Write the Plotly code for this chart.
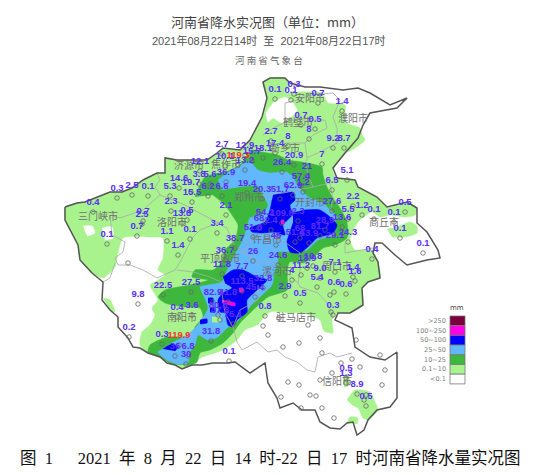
#!/usr/bin/env python3
import plotly.graph_objects as go

CLR_LIGHT = '#a9f38f'
CLR_GREEN = '#3db83d'
CLR_SKY = '#61b8ff'
CLR_BLUE = '#0000f5'
CLR_MAGENTA = '#ff00e6'

province = [(65,207),(77,203),(85,202),(97,197),(110,192),(122,192),(132,188),(143,180),(157,173),(165,173),
            (165,158),(177,160),(193,160),(207,160),(217,153),(223,148),(240,150),(250,140),(262,117),(267,98),
            (263,82),(270,78),(285,78),(290,83),(305,87),(320,87),(343,90),(358,88),(370,93),(390,105),(407,98),
            (397,108),(370,113),(363,125),(358,138),(345,153),(333,168),(337,178),(355,180),(358,187),(377,197),
            (387,207),(407,202),(417,208),(417,223),(427,232),(438,250),(440,258),(427,260),(407,265),(395,255),
            (382,243),(375,243),(373,253),(378,262),(380,278),(368,282),(362,288),(363,305),(350,313),(338,313),
            (335,320),(352,328),(355,347),(370,357),(385,360),(397,352),(397,380),(397,398),(390,407),(377,410),
            (368,420),(364,430),(357,435),(353,422),(347,423),(340,429),(330,428),(320,422),(315,410),(302,410),
            (293,403),(280,408),(277,398),(268,383),(265,363),(250,373),(235,362),(227,363),(213,363),(202,365),
            (192,365),(182,369),(175,365),(167,363),(160,357),(148,353),(140,348),(133,347),(128,338),(123,332),
            (118,327),(118,317),(110,310),(102,300),(103,282),(92,273),(80,260),(78,245),(70,230),(65,220),(65,207)]

rain_light = [(65,207),(77,203),(85,202),(97,197),(110,192),(122,192),(132,188),(143,180),(157,173),(165,173),
              (165,158),(177,160),(193,160),(207,160),(217,153),(223,148),(240,150),(250,140),(262,117),(267,98),
              (263,82),(270,78),(285,78),(290,85),(285,93),(300,92),(322,93),(328,103),(345,105),(345,122),(360,128),
              (362,135),(365,140),(352,150),(345,153),(335,165),(333,172),(337,178),(355,180),(358,187),(377,197),
              (387,207),(407,202),(417,208),(415,215),(405,217),(390,215),(380,217),(372,212),(358,222),(350,240),
              (355,250),(372,250),(378,262),(380,278),(368,282),(362,288),(363,305),(350,313),(337,313),(332,320),
              (333,333),(324,331),(320,320),(303,313),(290,313),(270,312),(257,325),(245,330),(237,340),(223,350),
              (200,358),(195,364),(192,365),(182,369),(175,365),(167,363),(160,357),(148,353),(140,345),(142,332),
              (150,325),(155,315),(152,308),(158,300),(150,285),(155,282),(165,275),(158,270),(163,258),(163,238),
              (150,237),(123,238),(117,258),(115,267),(103,278),(92,273),(80,260),(78,245),(70,230),(65,220),(65,207)]
rain_light_se = [(347,400),(355,390),(370,392),(375,402),(378,410),(368,420),(363,418),(358,408),(352,405)]
rain_light_se2 = [(347,423),(350,417),(358,418),(357,424)]
rain_light_xy = [(343,375),(348,375),(350,385),(344,387)]
rain_light_sq = [(387,229),(397,227),(410,222),(417,226),(417,233),(405,237),(392,237)]
rain_light_w = [(103,298),(110,300),(115,312),(110,310)]
white_north = [(273,103),(285,97),(292,102),(297,110),(290,118),(282,123),(273,118),(268,122),(266,112)]
white_west = [(102,228),(112,227),(113,238),(105,240)]
white_west2 = [(83,226),(92,226),(95,233),(87,236)]

rain_green = [(195,197),(205,177),(225,172),(240,165),(252,150),(262,152),(278,155),(288,160),(302,162),(322,167),
              (323,175),(327,187),(333,198),(340,208),(347,222),(347,238),(335,245),(323,248),(313,258),(303,263),
              (290,262),(287,270),(287,290),(268,297),(250,313),(240,323),(233,333),(223,343),(210,350),(200,353),
              (197,362),(190,365),(170,363),(160,357),(148,352),(150,345),(167,337),(192,336),(195,327),(203,317),
              (200,308),(185,307),(165,303),(158,297),(165,290),(190,285),(208,280),(192,277),(195,270),(213,270),
              (222,262),(225,250),(235,240),(238,225),(232,215),(225,205),(213,195)]

rain_sky = [(218,180),(232,170),(250,162),(258,170),(270,173),(286,172),(293,177),(298,187),(310,198),(323,203),
            (330,210),(337,217),(330,228),(333,235),(318,240),(307,250),(293,252),(278,252),(278,262),(275,270),
            (272,285),(262,295),(253,303),(245,313),(235,323),(227,328),(218,337),(208,340),(198,335),(195,345),
            (190,352),(188,363),(178,364),(167,360),(158,352),(165,348),(172,343),(187,335),(198,325),(208,308),
            (202,292),(200,287),(222,282),(225,275),(233,258),(243,240),(247,228),(250,218),(262,215),(268,205),
            (263,195),(258,186),(232,188),(222,190)]
green_zz = [(232,190),(255,188),(260,196),(255,208),(243,212),(234,204)]

blue_east = [(293,213),(305,210),(320,210),(330,217),(337,225),(333,233),(317,238),(310,245),(300,253),(290,252),
             (287,242),(290,232),(293,223)]
blue_north = [(273,195),(293,192),(295,200),(290,205),(292,215),(283,225),(285,235),(275,232),(262,233),(252,232),
              (250,228),(265,222),(270,210),(272,200)]
blue_south = [(223,277),(233,270),(243,270),(257,277),(267,280),(257,290),(247,300),(247,312),(237,320),(233,327),
              (228,325),(225,313),(220,312),(218,300),(223,293),(232,288),(225,283)]
blue_sw = [(163,349),(172,344),(178,347),(175,351)]
blue_a = [(208,298),(213,298),(213,303),(208,303)]
blue_b = [(200,320),(207,319),(207,323),(200,324)]
blue_c = [(210,308),(215,308),(215,312),(210,312)]
magenta_a = [(222,300),(235,303),(235,306),(222,303)]
magenta_b = [(239,288),(243,288),(243,292),(239,292)]
magenta_c = [(281,220),(284,220),(284,224),(281,224)]
island = [(212,317),(220,317),(220,322),(212,322)]

# grey county and city lines
border_lines = [
    [(110,215),(120,218),(143,210),(160,195),(155,187),(160,180),(157,173)],
    [(110,215),(112,235),(125,242),(123,252),(115,258),(118,265),(130,265),(143,270),(157,278),(175,270),(180,262),(193,237),(200,230),(217,223),(227,228),(233,243),(243,253)],
    [(115,263),(110,278),(103,282)],
    [(160,195),(185,205),(207,217),(220,223),(217,223)],
    [(177,270),(193,272),(210,277),(223,283)],
    [(222,293),(225,313),(233,327),(237,342),(242,350),(257,342),(268,352),(277,350),(285,357),(297,362),(307,370),(315,372),(318,357),(330,353),(337,357),(352,353)],
    [(300,253),(300,270),(298,283),(300,287),(318,293),(327,303),(333,317)],
    [(345,243),(345,253),(373,248)],
    [(285,103),(297,100),(310,95),(333,93),(340,100),(333,117),(337,128),(337,143),(318,153),(308,157),(305,163),(310,180),(313,187),(330,183),(333,198),(330,213)],
    [(263,135),(270,130),(285,122),(285,103)],
    [(285,120),(310,120),(325,120),(327,128),(313,135),(305,143),(307,158)],
    [(285,143),(298,143),(305,143)],
    [(243,253),(258,262),(275,262),(298,283)],
    [(243,253),(250,240),(262,235),(282,240),(300,253)],
    [(263,195),(283,193),(313,187)],
    [(258,285),(258,300),(240,310),(233,327)],
]

label_x = [93,117,132,148,179,170,191,199,210,226,208,222,192,171,226,187,182,247,143,142,137,217,222,245,225,238,252,245,200,
           275,294,291,318,342,301,315,271,288,309,333,344,275,263,294,322,282,307,347,301,332,303,293,262,280,353,332,348,362,374,405,394,342,298,282,265,259,271,253,
           325,320,300,309,335,348,276,295,400,423,372,278,313,307,301,335,320,292,353,355,317,334,346,285,300,333,265,346,346,357,366,
           107,167,190,178,235,225,253,163,191,242,263,255,213,228,177,192,218,220,233,138,129,162,179,211,175,188,186,229,222,242]
label_y = [203,189,186,187,179,187,183,175,175,173,187,187,193,202,206,211,214,184,212,215,227,224,145,146,157,156,152,161,162,
           90,85,91,94,102,116,120,132,137,130,139,139,144,149,156,155,163,167,171,177,181,183,186,190,190,197,202,210,206,210,203,213,218,212,214,213,219,221,228,
           221,227,229,234,236,233,236,233,229,244,250,256,257,259,266,263,269,271,268,272,278,283,285,287,294,306,307,369,374,385,397,
           235,232,230,246,239,251,252,286,283,282,279,288,293,293,308,306,306,311,315,295,328,335,336,332,347,347,355,352,265,267]
label_text = ['0.4','0.3','2.5','0.1','14.6','5.3','19.7','3.8','5.6','36.9','6.2','6.6','15.5','2.3','2.1','0.5','13.8','19.4','0.7','2.5','0.7','3.4','2.7','12.9','10.1','119.3','15.7','13.2','12.1',
              '0.1','0.3','0.1','0.7','1.4','0.7','0.5','2.7','8','8','9.2','8.7','17.4','18.1','20.9','7','26.4','21','5.1','57.4','6.5','1.2','62.9','20.3','51.7','2.2','27.6','5.5','1.2','0.1','0.5','0.1','13.6','2.3','109.8','54.2','68','2.4','51.8',
              '28.9','81.7','68','63.9','29.1','24.3','45','51.4','0.1','0.1','0.4','24.6','10.8','13.9','11.2','7.1','9.0','4','1.4','1.6','5.4','0.6','0.6','2.9','0.5','0.3','0.8','0.5','1.3','8.9','0.5',
              '0.1','1.1','0.1','1.4','38.7','36.7','26','22.5','27.5','113.5','32.8','45.4','82.9','41.8','0.4','3.6','80.8','47.8','76.1','9.8','0.2','0.3','119.9','31.8','36','6.8','30','0.1','11.8','7.7']

# stations with no label near them
extra_x = [128,224,279,263,268,320,352,385,332,360,380,299,283,322,341,299,281,316,301,320,322,382,366,334,310,288,364,356,308,331,330]
extra_y = [263,256,318,326,335,338,359,370,373,367,355,343,347,353,363,385,397,396,408,380,408,385,395,418,395,382,400,340,325,312,295]

city_names = ['三门峡市','洛阳市','济源市','焦作市','郑州市','新乡市','鹤壁市','安阳市','濮阳市','开封市','商丘市','许昌市',
              '平顶山市','漯河市','周口市','驻马店市','南阳市','信阳市']
city_x = [98,172,189,226,249,285,298,310,353,310,384,267,220,277,337,296,182,337]
city_y = [217,223,166,165,198,149,123,99,119,203,223,240,259,272,267,318,318,382]

legend_labels = ['>250','100~250','50~100','25~50','10~25','0.1~10','<0.1']
legend_colors = ['#7a0040','#ff00e6','#0000ff','#61b8ff','#3db83d','#a9f38f','#ffffff']

fig = go.Figure()


def add_fill(points, color):
    fig.add_trace(go.Scatter(x=[p[0] for p in points], y=[p[1] for p in points], mode='lines', fill='toself',
                             fillcolor=color, line=dict(color=color, width=0.5, shape='spline', smoothing=0.6),
                             hoverinfo='skip'))


add_fill(province, '#ffffff')
for part in [rain_light, rain_light_se, rain_light_se2, rain_light_xy, rain_light_sq, rain_light_w]:
    add_fill(part, CLR_LIGHT)
for part in [white_north, white_west, white_west2]:
    add_fill(part, '#ffffff')
add_fill(rain_green, CLR_GREEN)
add_fill(rain_sky, CLR_SKY)
add_fill(green_zz, CLR_GREEN)
for part in [blue_east, blue_north, blue_south, blue_sw, blue_a, blue_b, blue_c]:
    add_fill(part, CLR_BLUE)
add_fill(island, CLR_LIGHT)
for part in [magenta_a, magenta_b, magenta_c]:
    add_fill(part, CLR_MAGENTA)

for part in border_lines:
    fig.add_trace(go.Scatter(x=[p[0] for p in part], y=[p[1] for p in part], mode='lines',
                             line=dict(color='#a8a8a8', width=0.8), hoverinfo='skip'))
fig.add_trace(go.Scatter(x=[p[0] for p in province], y=[p[1] for p in province], mode='lines',
                         line=dict(color='#555555', width=1.5), hoverinfo='skip'))

# station rings sit just below their number
fig.add_trace(go.Scatter(x=label_x + extra_x, y=[v + 9 for v in label_y] + extra_y, mode='markers',
                         marker=dict(symbol='circle-open', size=4.5, color='#666666', line=dict(width=0.8)),
                         hoverinfo='skip'))

fig.add_trace(go.Scatter(x=city_x, y=city_y, mode='text', text=city_names,
                         textfont=dict(family='Noto Sans CJK SC', size=10, color='#707070'), hoverinfo='skip'))

label_colors = ['#ff3030' if float(t) > 115 else '#5b2dff' for t in label_text]
fig.add_trace(go.Scatter(x=label_x, y=label_y, mode='text', text=label_text,
                         textfont=dict(family='Liberation Sans', size=9.5, color=label_colors, weight='bold'),
                         hoverinfo='skip'))

for i, (name, color) in enumerate(zip(legend_labels, legend_colors)):
    fig.add_shape(type='rect', x0=450, x1=465, y0=316 + i * 9.7, y1=316 + (i + 1) * 9.7, fillcolor=color,
                  line=dict(color='#777777', width=0.8))
    fig.add_annotation(x=448, y=316 + (i + 0.5) * 9.7, text=name, showarrow=False, xanchor='right',
                       font=dict(family='DejaVu Sans', size=6.5, color='#808080'))
fig.add_annotation(x=457, y=308, text='mm', showarrow=False, font=dict(family='DejaVu Sans', size=7, color='#444444'))

fig.add_annotation(x=267, y=21, text='河南省降水实况图（单位：mm）', showarrow=False,
                   font=dict(family='Noto Sans CJK SC', size=13, color='#444444'))
fig.add_annotation(x=269, y=40, text='2021年08月22日14时  至  2021年08月22日17时', showarrow=False,
                   font=dict(family='Liberation Sans, Noto Sans CJK SC', size=11, color='#555555'))
fig.add_annotation(x=269, y=60, text='河 南 省 气 象 台', showarrow=False,
                   font=dict(family='Noto Sans CJK SC', size=9.5, color='#666666'))
caption = '图 1   2021 年 8 月 22 日 14 时-22 日 17 时河南省降水量实况图'.replace(' ', '\u00a0\u00a0')
fig.add_annotation(x=270, y=458, text=caption, showarrow=False,
                   font=dict(family='Liberation Serif, Noto Sans CJK SC', size=16.5, color='#111111'))

fig.update_layout(width=544, height=475, margin=dict(l=0, r=0, t=0, b=0), showlegend=False,
                  paper_bgcolor='white', plot_bgcolor='white',
                  xaxis=dict(range=[0, 544], visible=False, fixedrange=True),
                  yaxis=dict(range=[475, 0], visible=False, fixedrange=True))

fig.write_html("out.html", config=dict(displayModeBar=False), post_script="document.body.style.margin='0';")
